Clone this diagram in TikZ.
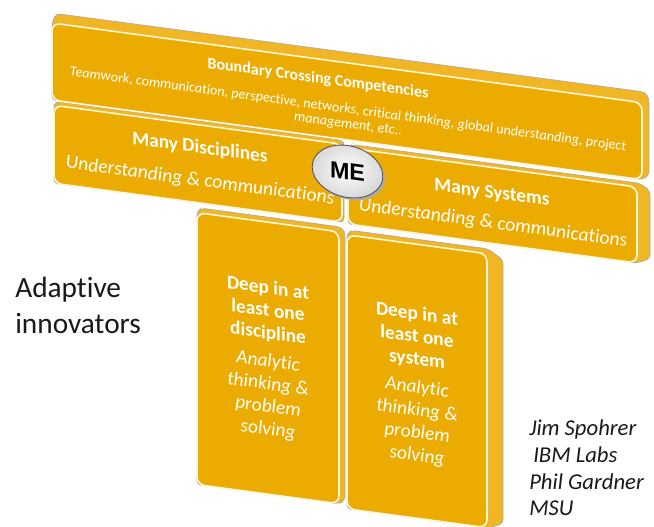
\documentclass[tikz,border=0pt]{standalone}
\usepackage{fontspec}
\setmainfont[Ligatures=NoCommon]{Carlito}
\newfontfamily\mefont{Liberation Sans}
\usetikzlibrary{shapes.geometric}
\definecolor{amber}{RGB}{235,171,0}
\definecolor{amberside}{RGB}{240,182,36}
\definecolor{rim}{RGB}{255,247,218}
\definecolor{edge}{RGB}{170,170,170}
\begin{document}
\begin{tikzpicture}[x={(0.75pt,0)},y={(0,-0.75pt)},
  face/.style={fill=amber, draw=rim, line width=1.2pt, rounded corners=6pt},
  depthface/.style={fill=amberside, draw=edge, line width=0.5pt, rounded corners=3pt},
  headbig/.style={text=white, font=\bfseries\fontsize{14.5}{17}\selectfont, transform shape, inner sep=0pt},
  itbig/.style={text=white, font=\itshape\fontsize{14.6}{17}\selectfont, transform shape, inner sep=0pt},
  coltext/.style={text=white, align=center, font=\fontsize{14.5}{17}\selectfont, transform shape, inner sep=0pt},
  sidetext/.style={text=black!90, anchor=west, align=left, inner sep=0pt}]
\useasboundingbox (0,0) rectangle (654,527);
\fill[white] (0,0) rectangle (654,527);

\begin{scope}[yslant=-0.135]
  % the two deep columns
  \path[depthface] (197,458) -- (197,186) -- (201,181) -- (340,181) -- (345,186) -- (345,454) -- (339,458) -- cycle;
  \draw[face] (197,186) rectangle (339,458);
  \node[coltext] (colL) at (268,323) {\bfseries Deep in at\\\bfseries least one\\\bfseries discipline\\[4pt]
    \itshape Analytic\\\itshape thinking \&\\\itshape problem\\\itshape solving};

  \path[depthface] (347,462) -- (347,188) -- (351,183) -- (488,183) -- (503,192) -- (503,456) -- (488,462) -- cycle;
  \draw[face] (347,188) rectangle (487,462);
  \node[coltext] (colR) at (417,329) {\bfseries Deep in at\\\bfseries least one\\\bfseries system\\[4pt]
    \itshape Analytic\\\itshape thinking \&\\\itshape problem\\\itshape solving};

  % the breadth row
  \path[depthface] (54,176) -- (54,98) -- (57,94) -- (342,94) -- (344,98) -- (344,176) -- cycle;
  \draw[face] (54,98) rectangle (342,176);
  \node[headbig] (mdT) at (200,121) {Many Disciplines};
  \node[itbig] (mdU) at (200,154) {Understanding \& communications};

  \path[depthface] (348,177) -- (348,101) -- (352,97) -- (640,97) -- (650,103) -- (650,171) -- (637,177) -- cycle;
  \draw[face] (348,101) rectangle (637,177);
  \node[headbig] (msT) at (492,127) {Many Systems};
  \node[itbig] (msU) at (493,157) {Understanding \& communications};

  % the boundary crossing bar on top
  \path[depthface] (52,93) -- (52,16) -- (56,6) -- (645,5) -- (649,11) -- (649,88) -- (642,93) -- cycle;
  \draw[face] (52,16) rectangle (642,93);
  \node[text=white, font=\bfseries\fontsize{12}{14}\selectfont, transform shape, inner sep=0pt] (bcT) at (318,36) {Boundary Crossing Competencies};
  \node[text=white, align=center, font=\itshape\fontsize{10.6}{11}\selectfont, transform shape, inner sep=0pt] (bcL) at (348,70)
    {Teamwork, communication, perspective, networks, critical thinking, global understanding, project\\management, etc..};

  % the ME button
  \fill[gray!65] (349.5,126.6) ellipse [x radius=35.5, y radius=26];
  \node[ellipse, draw=gray!60!black, line width=0.6pt, inner color=white, outer color=gray!30,
        minimum width=53pt, minimum height=39pt, inner sep=0pt, transform shape,
        font=\mefont\bfseries\fontsize{17.5}{20}\selectfont] (me) at (347.5,124.6) {ME};
\end{scope}

\node[sidetext, font=\fontsize{22}{27}\selectfont] (adapt) at (15,305) {Adaptive\\innovators};
\node[sidetext, font=\itshape\fontsize{17}{20}\selectfont] (authors) at (529,468)
  {Jim Spohrer\\\hspace{3pt}IBM Labs\\Phil Gardner\\MSU};
\end{tikzpicture}
\end{document}
